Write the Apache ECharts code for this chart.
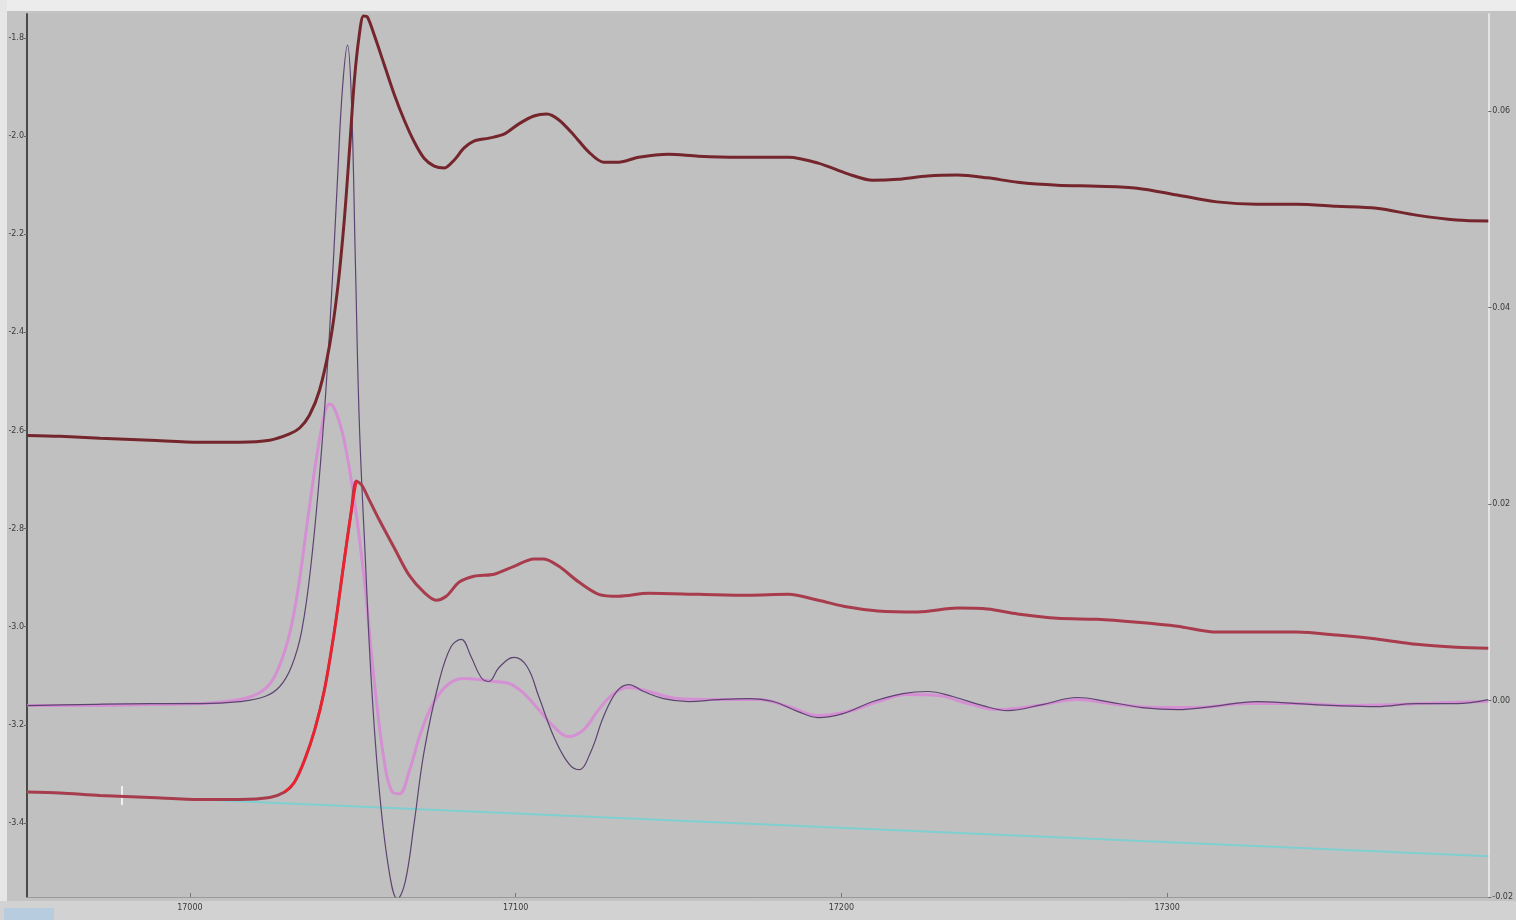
<!DOCTYPE html>
<html>
<head>
<meta charset="utf-8">
<title>XANES</title>
<script src="https://cdn.jsdelivr.net/npm/echarts@6/dist/echarts.min.js"></script>
<style>
  html, body { margin: 0; padding: 0; background: #c3c3c3; }
  #main { width: 1516px; height: 920px; }
</style>
</head>
<body>
<div id="main"></div>
<script>
// energy axis (eV)
const xTicks = [17000, 17100, 17200, 17300]
const leftTicks = [-3.4, -3.2, -3.0, -2.8, -2.6, -2.4, -2.2, -2.0, -1.8]
const rightTicks = [-0.02, 0.00, 0.02, 0.04, 0.06]

// top curve (normalised, left axis)
const topX = [16950.1, 16960.2, 16972.4, 16987.8, 17003.1, 17015.3, 17024.5, 17030.6, 17033.7, 17036.7,
  17039.8, 17042.9, 17045.3, 17047.4, 17049.0, 17050.5, 17052.0, 17053.3, 17054.5, 17056.6,
  17059.7, 17062.8, 17065.8, 17068.9, 17071.9, 17075.0, 17078.1, 17081.1, 17084.2, 17087.2,
  17091.8, 17096.4, 17101.0, 17105.6, 17109.6, 17113.3, 17117.9, 17122.4, 17127.0, 17131.6,
  17137.8, 17146.9, 17156.1, 17168.4, 17183.7, 17192.9, 17202.0, 17209.7, 17217.3, 17226.5,
  17235.7, 17244.9, 17254.1, 17266.3, 17278.6, 17290.8, 17303.1, 17315.3, 17327.5, 17339.8,
  17352.0, 17364.3, 17376.5, 17388.8, 17398.6]
const topY = [-2.610, -2.612, -2.616, -2.620, -2.624, -2.624, -2.620, -2.607, -2.595, -2.569,
  -2.518, -2.426, -2.314, -2.171, -2.028, -1.886, -1.794, -1.755, -1.757, -1.794,
  -1.855, -1.916, -1.967, -2.012, -2.045, -2.061, -2.065, -2.049, -2.024, -2.010,
  -2.004, -1.996, -1.975, -1.959, -1.955, -1.967, -1.998, -2.032, -2.053, -2.053,
  -2.043, -2.037, -2.041, -2.043, -2.043, -2.055, -2.077, -2.090, -2.088, -2.081,
  -2.079, -2.085, -2.094, -2.100, -2.102, -2.106, -2.120, -2.134, -2.139, -2.139,
  -2.143, -2.147, -2.161, -2.171, -2.173]

// lower curve (left axis)
const lowX = [16950.1, 16960.2, 16972.4, 16987.8, 17003.1, 17015.3, 17024.5, 17029.1, 17032.1, 17035.2,
  17038.3, 17041.3, 17044.4, 17047.4, 17049.6, 17051.1, 17052.7, 17055.1, 17058.2, 17062.8,
  17067.3, 17071.9, 17075.6, 17078.7, 17082.7, 17087.2, 17093.4, 17099.5, 17105.6, 17108.7,
  17113.3, 17119.4, 17125.5, 17131.6, 17140.8, 17156.1, 17171.4, 17183.7, 17192.9, 17202.0,
  17211.2, 17223.5, 17235.7, 17244.9, 17254.1, 17266.3, 17278.6, 17290.8, 17303.1, 17315.3,
  17327.5, 17339.8, 17352.0, 17364.3, 17376.5, 17388.8, 17398.6]
const lowY = [-3.337, -3.339, -3.344, -3.348, -3.352, -3.352, -3.348, -3.337, -3.317, -3.272,
  -3.211, -3.129, -3.007, -2.864, -2.762, -2.703, -2.711, -2.742, -2.783, -2.840,
  -2.895, -2.930, -2.946, -2.938, -2.909, -2.897, -2.893, -2.877, -2.862, -2.862,
  -2.877, -2.909, -2.934, -2.938, -2.932, -2.934, -2.936, -2.934, -2.946, -2.960,
  -2.968, -2.970, -2.962, -2.964, -2.974, -2.983, -2.985, -2.991, -2.999, -3.011,
  -3.011, -3.011, -3.017, -3.025, -3.036, -3.042, -3.044]

// pre-edge line (left axis)
const preX = [16950.1, 17398.6]
const preY = [-3.337, -3.468]

// derivative, raw (right axis)
const derX = [16950.1, 16966.3, 16987.8, 17003.1, 17015.3, 17023.0, 17027.6, 17031.2, 17034.3, 17037.3,
  17040.4, 17042.9, 17045.3, 17046.8, 17048.4, 17049.6, 17050.8, 17052.0, 17053.9, 17055.7,
  17058.2, 17061.2, 17063.7, 17066.1, 17068.9, 17071.9, 17076.5, 17080.2, 17083.3, 17086.3,
  17089.4, 17091.8, 17094.9, 17099.5, 17103.5, 17107.1, 17111.7, 17116.3, 17119.4, 17123.1,
  17127.0, 17131.0, 17134.7, 17139.3, 17145.4, 17153.1, 17162.2, 17171.4, 17179.1, 17186.7,
  17192.9, 17200.5, 17209.7, 17218.9, 17226.5, 17234.2, 17243.4, 17251.0, 17261.7, 17272.4,
  17281.6, 17292.3, 17303.1, 17313.8, 17327.5, 17339.8, 17352.0, 17364.3, 17376.5, 17388.8,
  17398.6]
const derY = [-0.00051, -0.00041, -0.00031, -0.00031, -0.0001, 0.00041, 0.00143, 0.00347, 0.00704, 0.01418,
  0.02541, 0.03765, 0.05296, 0.06214, 0.06673, 0.06112, 0.0448, 0.02847, 0.01418, 0.00194,
  -0.00929, -0.01745, -0.0202, -0.01847, -0.01235, -0.0052, 0.00194, 0.00551, 0.00622, 0.00449,
  0.00235, 0.00194, 0.00337, 0.00439, 0.00347, 0.00041, -0.00367, -0.00643, -0.00704, -0.0052,
  -0.00163, 0.00092, 0.00163, 0.00092, 0.0002, -0.0001, 0.0001, 0.0002, -0.0001, -0.00112,
  -0.00173, -0.00133, -0.0001, 0.00071, 0.00092, 0.00041, -0.00051, -0.00102, -0.00041, 0.00031,
  -0.0001, -0.00071, -0.00092, -0.00061, -0.0001, -0.00031, -0.00051, -0.00061, -0.00031, -0.00031,
  0.0001]

// derivative, smoothed (right axis)
const smX = [16950.1, 16966.3, 16987.8, 17003.1, 17015.3, 17022.0, 17026.0, 17030.0, 17033.1, 17036.1,
  17039.2, 17041.6, 17042.9, 17044.7, 17047.4, 17050.5, 17053.6, 17056.6, 17059.7, 17062.1,
  17064.3, 17067.3, 17071.0, 17075.0, 17079.6, 17084.2, 17088.8, 17093.4, 17098.0, 17102.6,
  17107.1, 17111.7, 17116.3, 17120.9, 17125.5, 17130.1, 17134.7, 17140.8, 17150.0, 17162.2,
  17174.5, 17183.7, 17192.9, 17202.0, 17211.2, 17220.4, 17229.6, 17238.8, 17248.0, 17260.2,
  17272.4, 17284.7, 17296.9, 17309.2, 17324.5, 17339.8, 17355.1, 17370.4, 17385.7, 17398.6]
const smY = [-0.00051, -0.00051, -0.00041, -0.00031, 0.0001, 0.00092, 0.00245, 0.00602, 0.01112, 0.01827,
  0.02541, 0.02949, 0.0302, 0.02949, 0.02643, 0.02031, 0.01214, 0.00194, -0.00622, -0.00929,
  -0.00949, -0.00724, -0.00316, -0.0001, 0.00174, 0.00225, 0.00214, 0.00194, 0.00174, 0.00071,
  -0.00092, -0.00265, -0.00367, -0.00296, -0.00092, 0.00071, 0.00133, 0.00092, 0.0002, 0.0001,
  0.0001, -0.00061, -0.00153, -0.00112, -0.0001, 0.00061, 0.00051, -0.00031, -0.00092, -0.00051,
  0.0001, -0.00041, -0.00071, -0.00071, -0.00031, -0.00031, -0.00051, -0.00041, -0.0002, -0.0001]

const zip = (xs, ys) => xs.map((x, i) => [x, ys[i]])
// the bright red part of the lower curve (edge region)
const edgeData = zip(lowX, lowY).filter(p => p[0] >= 17028 && p[0] <= 17052)

const chart = echarts.init(document.getElementById('main'))

const labelFont = { color: '#3a3a3a', fontSize: 8, fontFamily: 'DejaVu Sans' }

chart.setOption({
  backgroundColor: '#c3c3c3',
  animation: false,
  grid: { left: 27, right: 24, top: 14, bottom: 23, show: true, backgroundColor: '#c0c0c0', borderWidth: 0 },
  graphic: [
    { type: 'rect', shape: { x: 0, y: 0, width: 1516, height: 11 }, style: { fill: '#ececec' }, silent: true },
    { type: 'rect', shape: { x: 0, y: 0, width: 7, height: 920 }, style: { fill: '#e6e6e6' }, silent: true },
    { type: 'rect', shape: { x: 0, y: 901, width: 1516, height: 19 }, style: { fill: '#d2d2d2' }, silent: true },
    { type: 'rect', shape: { x: 4, y: 908, width: 50, height: 12 }, style: { fill: '#b8cce0' }, silent: true },
    { type: 'line', shape: { x1: 122, y1: 786, x2: 122, y2: 805 }, style: { stroke: '#ffffff', lineWidth: 1.5 }, silent: true }
  ],
  xAxis: {
    type: 'value',
    min: 16950,
    max: 17398.6,
    splitLine: { show: false },
    axisLine: { show: true, onZero: false, lineStyle: { color: '#9a9a9a', width: 1 } },
    axisTick: { show: true, inside: true, length: 4, customValues: xTicks, lineStyle: { color: '#777' } },
    axisLabel: { customValues: xTicks, margin: 7, ...labelFont, formatter: v => String(v) }
  },
  yAxis: [
    {
      type: 'value',
      min: -3.551,
      max: -1.751,
      position: 'left',
      splitLine: { show: false },
      axisLine: { show: true, onZero: false, lineStyle: { color: '#4a4a4a', width: 2 } },
      axisTick: { show: true, length: 3, customValues: leftTicks, lineStyle: { color: '#666' } },
      axisLabel: { customValues: leftTicks, margin: 3, ...labelFont, formatter: v => v.toFixed(1) }
    },
    {
      type: 'value',
      min: -0.02,
      max: 0.0699,
      position: 'right',
      splitLine: { show: false },
      axisLine: { show: true, onZero: false, lineStyle: { color: '#e4e4e4', width: 2 } },
      axisTick: { show: true, length: 3, customValues: rightTicks, lineStyle: { color: '#666' } },
      axisLabel: { customValues: rightTicks, margin: 4, ...labelFont, formatter: v => v.toFixed(2) }
    }
  ],
  series: [
    {
      name: 'pre-edge', type: 'line', yAxisIndex: 0, showSymbol: false,
      lineStyle: { color: '#7fcfd0', width: 2 },
      data: zip(preX, preY)
    },
    {
      name: 'deriv smooth', type: 'line', yAxisIndex: 1, showSymbol: false, smooth: 0.4,
      lineStyle: { color: '#d490d2', width: 3 },
      data: zip(smX, smY)
    },
    {
      name: 'deriv', type: 'line', yAxisIndex: 1, showSymbol: false, smooth: 0.4,
      lineStyle: { color: '#5c4470', width: 1.2 },
      data: zip(derX, derY)
    },
    {
      name: 'lower', type: 'line', yAxisIndex: 0, showSymbol: false, smooth: 0.3,
      lineStyle: { color: '#a83c4c', width: 3 },
      data: zip(lowX, lowY)
    },
    {
      name: 'edge', type: 'line', yAxisIndex: 0, showSymbol: false, smooth: 0.3,
      lineStyle: { color: '#f0202c', width: 2.5 },
      data: edgeData
    },
    {
      name: 'top', type: 'line', yAxisIndex: 0, showSymbol: false, smooth: 0.3,
      lineStyle: { color: '#74262c', width: 3 },
      data: zip(topX, topY)
    }
  ]
})
</script>
</body>
</html>
